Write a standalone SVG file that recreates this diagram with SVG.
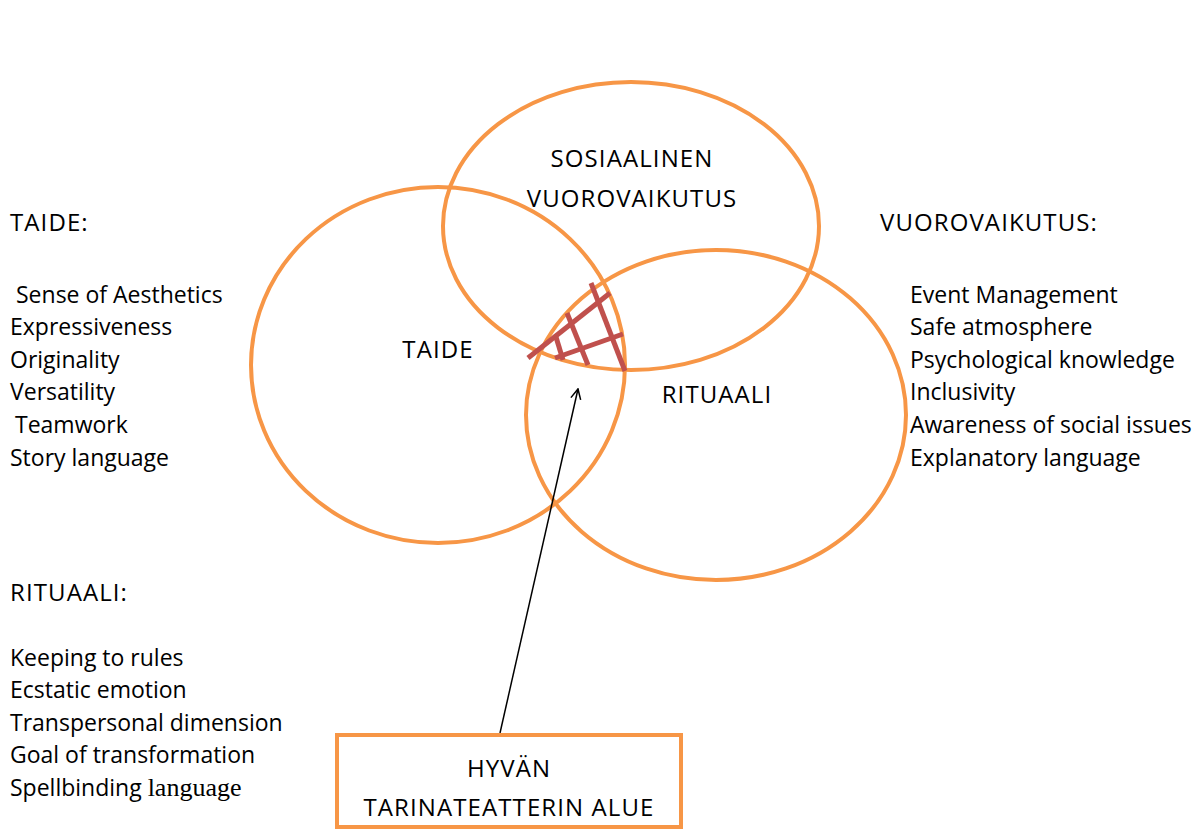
<svg xmlns="http://www.w3.org/2000/svg" width="1197" height="830" viewBox="0 0 1197 830">
<style>
.c{fill:none;stroke:#F79646;stroke-width:4}
.t{font-family:"Open Sans","Liberation Sans",sans-serif;font-size:23px;fill:#000}
.k{font-size:24px;letter-spacing:1.1px}
.m{text-anchor:middle}
.h{stroke:#C0504D;stroke-width:5;stroke-linecap:butt}
.a{stroke:#000;stroke-width:1.5;fill:none}
</style>
<defs>
<marker id="arr" viewBox="0 0 12 12" refX="11" refY="6" markerWidth="12" markerHeight="12" markerUnits="userSpaceOnUse" orient="auto">
<path d="M1,1 L11,6 L1,11" fill="none" stroke="#000" stroke-width="1.5"/>
</marker>
</defs>
<rect width="1197" height="830" fill="#fff"/>
<g id="taide-circle">
<ellipse class="c" cx="438" cy="365" rx="187" ry="178"/>
<text class="t k m" x="438" y="358">TAIDE</text>
</g>
<g id="sosiaalinen-circle">
<ellipse class="c" cx="631" cy="226" rx="188" ry="144"/>
<text class="t k m" x="632" y="167">SOSIAALINEN</text>
<text class="t k m" x="632" y="207">VUOROVAIKUTUS</text>
</g>
<g id="rituaali-circle">
<ellipse class="c" cx="716" cy="415" rx="190" ry="165"/>
<text class="t k m" x="717" y="403">RITUAALI</text>
</g>
<g id="hatch">
<line class="h" x1="528" y1="358" x2="610" y2="293"/>
<line class="h" x1="555" y1="358" x2="623" y2="334"/>
<line class="h" x1="591" y1="283" x2="625" y2="371"/>
<line class="h" x1="567" y1="313" x2="588" y2="365"/>
<line class="h" x1="556" y1="337" x2="563" y2="360"/>
</g>
<g id="connectors">
<line class="a" x1="500" y1="733" x2="578" y2="389" marker-end="url(#arr)"/>
</g>
<g id="box">
<rect x="337" y="735" width="344" height="92" fill="none" stroke="#F79646" stroke-width="4"/>
<text class="t k m" x="509" y="777">HYVÄN</text>
<text class="t k m" x="509" y="816">TARINATEATTERIN ALUE</text>
</g>
<g id="taide-list">
<text class="t k" x="10" y="231">TAIDE:</text>
<text class="t" x="16" y="303">Sense of Aesthetics</text>
<text class="t" x="10" y="335">Expressiveness</text>
<text class="t" x="10" y="368">Originality</text>
<text class="t" x="10" y="400">Versatility</text>
<text class="t" x="15" y="433">Teamwork</text>
<text class="t" x="10" y="466">Story language</text>
</g>
<g id="rituaali-list">
<text class="t k" x="10" y="601">RITUAALI:</text>
<text class="t" x="10" y="666">Keeping to rules</text>
<text class="t" x="10" y="698">Ecstatic emotion</text>
<text class="t" x="10" y="731">Transpersonal dimension</text>
<text class="t" x="10" y="763">Goal of transformation</text>
<text class="t" x="10" y="796">Spellbinding <tspan font-family="'Liberation Serif',serif" font-size="26">language</tspan></text>
</g>
<g id="vuorovaikutus-list">
<text class="t k" x="880" y="231">VUOROVAIKUTUS:</text>
<text class="t" x="910" y="303">Event Management</text>
<text class="t" x="910" y="335">Safe atmosphere</text>
<text class="t" x="910" y="368">Psychological knowledge</text>
<text class="t" x="910" y="400">Inclusivity</text>
<text class="t" x="910" y="433">Awareness of social issues</text>
<text class="t" x="910" y="466">Explanatory language</text>
</g>
</svg>
